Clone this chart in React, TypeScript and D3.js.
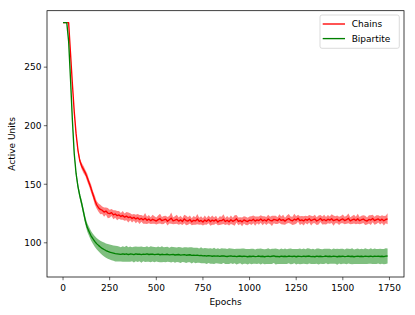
import React from 'react';
import { scaleLinear, line, area, range } from 'd3';

// epochs sampled every 10
const epochs = range(0, 1750, 10);

const chainsMean = [
  288, 288, 288, 288, 262, 236, 212, 193, 179, 170,
  165.5, 162.5, 159.5, 155.5, 151, 146.5, 141.5, 136.5, 132.5, 130,
  128.5, 127.8, 126.2, 127.1, 125.4, 124.9, 125.8, 123.9, 124.6, 123.2,
  123.8, 122.5, 123.4, 121.9, 122.8, 121.6, 122.2, 120.8, 121.7, 120.4,
  121.3, 119.9, 120.8, 119.6, 120.9, 119.2, 120.3, 118.9, 120.1, 119.4,
  118.6, 119.8, 120.6, 118.9, 119.5, 120.2, 118.4, 119.7, 121.0, 118.8,
  119.3, 120.1, 118.5, 119.6, 118.2, 120.4, 119.0, 118.6, 119.9, 117.9,
  119.2, 118.7, 120.3, 118.4, 119.1, 117.8, 119.5, 118.3, 120.0, 118.1,
  119.4, 118.6, 119.8, 117.7, 119.0, 118.9, 120.2, 118.2, 119.3, 118.0,
  119.7, 118.4, 119.1, 120.5, 118.3, 119.0, 117.9, 119.6, 118.7, 118.2,
  119.4, 118.9, 120.1, 118.5, 119.6, 119.0, 120.3, 118.8, 119.7, 118.6,
  120.4, 119.2, 118.7, 120.0, 119.5, 118.9, 120.6, 119.1, 119.8, 118.5,
  119.9, 120.7, 119.3, 118.8, 120.2, 119.4, 121.0, 119.0, 119.6, 118.7,
  120.1, 119.2, 120.5, 118.9, 119.7, 120.3, 118.6, 119.5, 120.8, 119.1,
  119.9, 118.8, 120.2, 119.4, 120.6, 118.9, 119.6, 120.1, 118.7, 119.8,
  120.4, 119.0, 119.7, 120.9, 118.8, 119.5, 120.2, 119.1, 120.6, 118.9,
  119.7, 120.3, 119.2, 118.6, 120.0, 119.4, 120.7, 118.9, 119.8, 120.4,
  119.1, 120.2, 118.8, 119.9, 120.5,
];

const chainsSpread = [
  0, 0, 0, 0, 0.6, 0.9, 1.2, 1.5, 1.9, 2.3,
  2.6, 3.1, 2.7, 3.4, 2.9, 3.6, 3.0, 3.8, 3.2, 3.5,
  4.1, 3.3, 3.9, 3.1, 4.4, 3.4, 3.0, 3.8, 3.2, 4.0,
  3.3, 2.9, 3.7, 3.1, 3.5, 4.3, 3.0, 3.4, 2.8, 3.6,
  3.2, 3.9, 2.9, 3.3, 4.6, 3.1, 3.5, 2.9, 3.8, 3.2,
  3.0, 3.6, 4.2, 3.1, 3.4, 2.8, 3.7, 3.2, 4.8, 3.0,
  3.3, 3.9, 3.1, 3.5, 2.9, 3.6, 4.1, 3.2, 3.4, 3.0,
  3.7, 3.2, 4.4, 3.0, 3.5, 3.1, 3.8, 2.9, 3.3, 3.6,
  4.0, 3.1, 3.4, 2.8, 3.7, 3.3, 4.2, 3.0, 3.5, 3.2,
  3.6, 3.0, 4.5, 3.2, 3.4, 2.9, 3.8, 3.1, 3.5, 3.3,
  3.1, 3.7, 3.3, 4.0, 2.9, 3.5, 3.2, 3.8, 3.0, 3.4,
  3.6, 3.1, 4.3, 3.2, 3.5, 2.9, 3.7, 3.3, 4.1, 3.0,
  3.4, 3.8, 3.1, 3.5, 4.6, 3.2, 3.0, 3.7, 3.3, 3.9,
  3.1, 3.5, 3.2, 4.2, 2.9, 3.6, 3.3, 3.8, 3.0, 3.4,
  4.0, 3.2, 3.5, 3.1, 3.7, 4.4, 3.0, 3.3, 3.6, 3.1,
  3.8, 3.2, 3.5, 4.1, 3.0, 3.4, 3.7, 3.2, 4.3, 3.1,
  3.5, 3.3, 3.9, 3.0, 3.6, 4.2, 3.2, 3.4, 3.8, 3.1,
  3.5, 3.3, 4.0, 3.2, 4.7,
];

const bipartiteMean = [
  288, 288, 288, 272, 240, 205, 176, 159, 148, 140,
  133.5, 126, 118.5, 113, 109.5, 106, 103.5, 101.2, 99.3, 97.8,
  96.4, 95.2, 94.3, 93.4, 92.7, 92.1, 91.6, 91.2, 90.8, 90.6,
  90.4, 90.1, 90.5, 90.2, 90.6, 90.0, 90.4, 90.3, 89.9, 90.5,
  90.2, 90.4, 89.9, 90.3, 90.1, 90.5, 90.0, 90.2, 90.4, 89.9,
  90.1, 90.3, 89.8, 90.2, 89.9, 90.0, 90.2, 89.7, 89.9, 90.1,
  89.6, 89.8, 90.0, 89.5, 89.7, 89.9, 89.4, 89.6, 89.8, 89.3,
  89.5, 89.2, 89.4, 89.0, 89.3, 88.9, 89.1, 88.7, 89.0, 88.8,
  88.5, 88.9, 88.6, 88.8, 88.4, 88.7, 88.9, 88.5, 88.3, 88.6,
  88.8, 88.4, 88.6, 88.2, 88.5, 88.7, 88.3, 88.6, 88.4, 88.1,
  88.5, 88.3, 88.6, 88.2, 88.4, 88.7, 88.3, 88.5, 88.1, 88.4,
  88.6, 88.2, 88.5, 88.8, 88.3, 88.4, 88.1, 88.6, 88.3, 88.5,
  88.2, 88.7, 88.4, 88.3, 88.6, 88.1, 88.5, 88.4, 88.2, 88.6,
  88.3, 88.5, 88.7, 88.2, 88.4, 88.1, 88.6, 88.3, 88.5, 88.2,
  88.4, 88.7, 88.3, 88.5, 88.2, 88.6, 88.4, 88.1, 88.5, 88.3,
  88.6, 88.2, 88.4, 88.7, 88.3, 88.5, 88.1, 88.4, 88.6, 88.3,
  88.5, 88.2, 88.6, 88.4, 88.3, 88.7, 88.2, 88.5, 88.4, 88.6,
  88.3, 88.5, 88.2, 88.6, 88.7,
];

const bipartiteSpread = [
  0, 0, 0, 0.5, 1.0, 1.5, 2.0, 2.3, 2.6, 2.8,
  3.0, 3.2, 3.3, 3.6, 3.8, 4.1, 4.3, 4.6, 4.8, 5.1,
  5.4, 5.6, 5.9, 6.1, 6.3, 6.4, 6.6, 6.5, 6.7, 6.6,
  6.4, 6.1, 6.6, 6.3, 6.8, 6.2, 6.5, 6.0, 6.7, 6.3,
  6.5, 6.2, 6.9, 6.1, 6.4, 6.6, 6.2, 6.8, 6.3, 6.5,
  6.1, 6.6, 6.3, 6.9, 6.2, 6.5, 6.4, 6.0, 6.7, 6.3,
  6.6, 6.2, 6.5, 6.8, 6.1, 6.4, 6.7, 6.3, 6.5, 6.9,
  6.2, 6.6, 6.4, 6.1, 6.8, 6.3, 6.5, 6.7, 6.2, 6.6,
  6.4, 6.9, 6.1, 6.5, 6.3, 6.7, 6.2, 6.6, 6.4, 6.8,
  6.3, 6.5, 6.1, 6.7, 6.4, 6.2, 6.8, 6.5, 6.3, 6.6,
  6.2, 6.7, 6.4, 6.1, 6.6, 6.3, 6.9, 6.2, 6.5, 6.4,
  6.7, 6.3, 6.5, 6.1, 6.8, 6.4, 6.2, 6.6, 6.3, 6.7,
  6.4, 6.2, 6.8, 6.5, 6.1, 6.6, 6.3, 6.7, 6.2, 6.5,
  6.3, 6.9, 6.4, 6.2, 6.6, 6.1, 6.5, 6.8, 6.3, 6.4,
  6.6, 6.2, 6.7, 6.4, 6.1, 6.5, 6.3, 6.8, 6.2, 6.6,
  6.4, 6.1, 6.7, 6.3, 6.5, 6.9, 6.2, 6.4, 6.6, 6.3,
  6.5, 6.2, 6.8, 6.4, 6.1, 6.6, 6.3, 6.7, 6.4, 6.2,
  6.6, 6.3, 6.5, 6.8, 6.4,
];

const xTicks = [0, 250, 500, 750, 1000, 1250, 1500, 1750];
const yTicks = [100, 150, 200, 250];

const series = [
  { name: 'Chains', color: '#ff0000', mean: chainsMean, spread: chainsSpread },
  { name: 'Bipartite', color: '#008000', mean: bipartiteMean, spread: bipartiteSpread },
];

const App = () => {
  const svgWidth = 415;
  const svgHeight = 315;
  const plot = { left: 47, right: 404, top: 10.7, bottom: 277 };
  const font = 'DejaVu Sans, sans-serif';

  const x = scaleLinear().domain([-86, 1828]).range([plot.left, plot.right]);
  const y = scaleLinear().domain([70.8, 298.2]).range([plot.bottom, plot.top]);

  const rows = (s) => {
    const n = Math.min(epochs.length, s.mean.length, s.spread.length);
    return epochs.slice(0, n).map((e, i) => ({ e, m: s.mean[i], d: s.spread[i] }));
  };

  const linefunc = line<any>().x(d => x(d.e)).y(d => y(d.m));
  const bandfunc = area<any>().x(d => x(d.e)).y0(d => y(d.m - d.d)).y1(d => y(d.m + d.d));

  return (
    <svg width={svgWidth} height={svgHeight} style={{ position: 'absolute', left: 0, top: 0, background: '#fff' }}>
      <defs>
        <clipPath id="plotclip">
          <rect x={plot.left} y={plot.top} width={plot.right - plot.left} height={plot.bottom - plot.top} />
        </clipPath>
      </defs>
      <rect x={0} y={0} width={svgWidth} height={svgHeight} fill="#fff" />
      <g clipPath="url(#plotclip)">
        {series.map(s => (
          <g key={s.name}>
            <path d={bandfunc(rows(s)) || ''} fill={s.color} fillOpacity={0.5} stroke="none" />
            <path d={linefunc(rows(s)) || ''} fill="none" stroke={s.color} strokeWidth={1.35} strokeLinejoin="round" />
          </g>
        ))}
      </g>
      <rect x={plot.left} y={plot.top} width={plot.right - plot.left} height={plot.bottom - plot.top}
        fill="none" stroke="#000" strokeWidth={0.75} />
      {xTicks.map(t => (
        <g key={'x' + t}>
          <line x1={x(t)} x2={x(t)} y1={plot.bottom} y2={plot.bottom + 3.2} stroke="#000" strokeWidth={0.6} />
          <text x={x(t)} y={plot.bottom + 14.3} textAnchor="middle" fontFamily={font} fontSize={9}>{t}</text>
        </g>
      ))}
      {yTicks.map(t => (
        <g key={'y' + t}>
          <line x1={plot.left - 3.2} x2={plot.left} y1={y(t)} y2={y(t)} stroke="#000" strokeWidth={0.6} />
          <text x={plot.left - 5.5} y={y(t) + 3.3} textAnchor="end" fontFamily={font} fontSize={9}>{t}</text>
        </g>
      ))}
      <text x={(plot.left + plot.right) / 2} y={305} textAnchor="middle" fontFamily={font} fontSize={9}>Epochs</text>
      <text transform={`translate(15,${(plot.top + plot.bottom) / 2}) rotate(-90)`} textAnchor="middle"
        fontFamily={font} fontSize={9}>Active Units</text>
      <g>
        <rect x={320} y={15} width={79.3} height={33.3} rx={2} fill="#fff" fillOpacity={0.8} stroke="#cccccc" strokeWidth={0.7} />
        {series.map((s, i) => (
          <g key={'leg' + s.name}>
            <line x1={322.7} x2={345} y1={24 + i * 14.6} y2={24 + i * 14.6} stroke={s.color} strokeWidth={1.35} />
            <text x={351.7} y={24 + i * 14.6 + 3.3} fontFamily={font} fontSize={9}>{s.name}</text>
          </g>
        ))}
      </g>
    </svg>
  );
};

export default App;
